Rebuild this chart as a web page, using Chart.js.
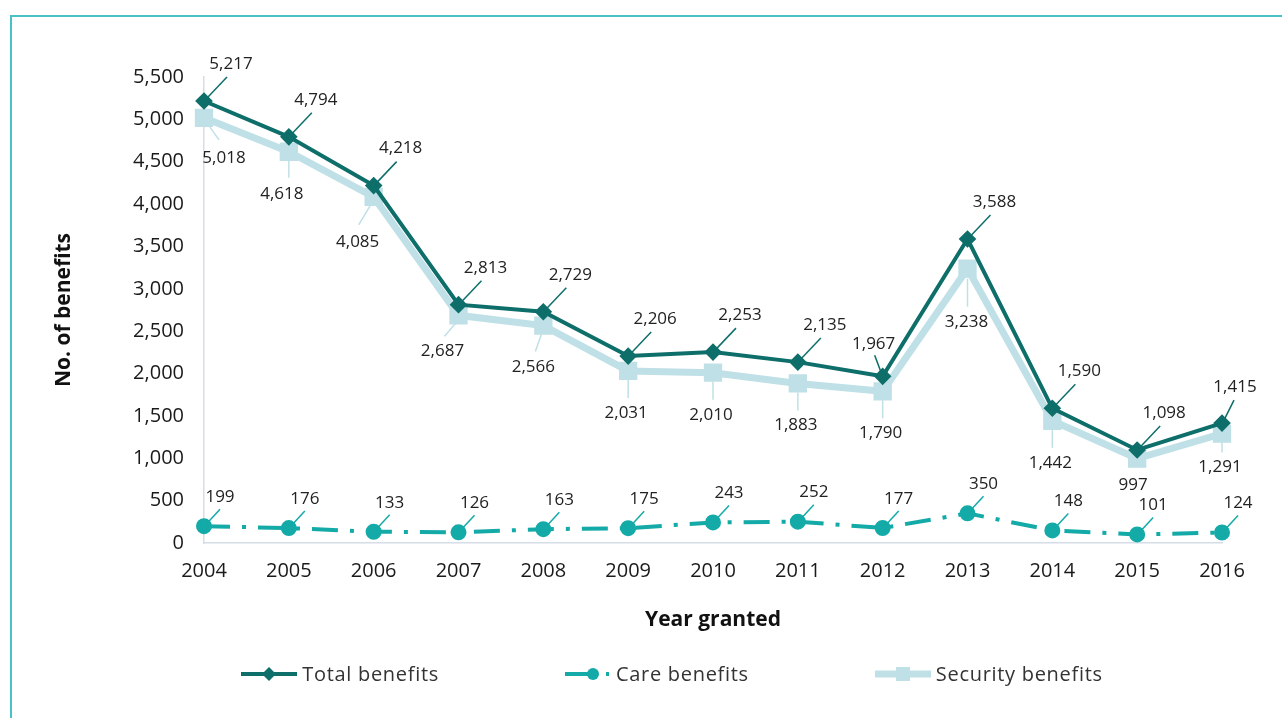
<!DOCTYPE html>
<html>
<head>
<meta charset="utf-8">
<script src="https://cdn.jsdelivr.net/npm/chart.js"></script>
<style>
  body { margin: 0; background: #fff; font-family: "Open Sans", sans-serif; }
  #wrap { position: relative; width: 1282px; height: 718px; overflow: hidden; }
  #frame { position: absolute; left: 10px; top: 15px; width: 1400px; height: 900px; border: 2px solid #48C2C5; }
  #chart { position: absolute; left: 0; top: 0; }
  #legend { position: absolute; left: 62px; top: 660px; width: 1220px; display: flex; justify-content: center; gap: 126px; }
  .item { display: flex; align-items: center; font-size: 20px; letter-spacing: 0.7px; color: #333; }
  .item canvas { margin-right: 5px; }
</style>
</head>
<body>
<div id="wrap">
  <div id="frame"></div>
  <canvas id="chart" width="1282" height="718"></canvas>
  <div id="legend"></div>
</div>
<script>
const years = ['2004', '2005', '2006', '2007', '2008', '2009', '2010', '2011', '2012', '2013', '2014', '2015', '2016'];
const totalBenefits = [5217, 4794, 4218, 2813, 2729, 2206, 2253, 2135, 1967, 3588, 1590, 1098, 1415];
const careBenefits = [199, 176, 133, 126, 163, 175, 243, 252, 177, 350, 148, 101, 124];
const securityBenefits = [5018, 4618, 4085, 2687, 2566, 2031, 2010, 1883, 1790, 3238, 1442, 997, 1291];
const seriesNames = ['Total benefits', 'Care benefits', 'Security benefits'];

const DARK = '#0E6E6A';
const TEAL = '#13AAA7';
const LIGHT = '#BFE0E6';
const FONT = '"Open Sans", sans-serif';

// where each value label sits relative to its point: label [dx, dy], leader [x1, y1, x2, y2]
const labelLayout = [
  { label: [27, -37], lead: [4, -4, 23, -24], tweak: {
      8: { label: [-9, -32], lead: [-2, -5, -8, -21] },
      12: { label: [13, -36], lead: [3, -5, 12, -23] } } },
  { label: [16, -29], lead: [4, -4, 16, -17], tweak: {} },
  { label: [-2, 42], lead: [0, 9, 0, 27], tweak: {
      0: { label: [20, 40], lead: [3, 5, 15, 22] },
      1: { label: [-7, 42], lead: [0, 9, 0, 26] },
      2: { label: [-16, 45], lead: [-3, 8, -15, 28] },
      3: { label: [-16, 36], lead: [-2, 7, -14, 21] },
      4: { label: [-10, 42], lead: [-2, 9, -8, 26] },
      9: { label: [-1, 54], lead: [0, 10, 0, 38] },
      11: { label: [-4, 27], lead: null },
      12: { label: [-2, 34], lead: [0, 8, 0, 19] } } }
];

const valueLabels = {
  id: 'valueLabels',
  afterDatasetsDraw(chart) {
    const ctx = chart.ctx;
    ctx.save();
    ctx.font = '17px ' + FONT;
    ctx.textAlign = 'center';
    ctx.textBaseline = 'middle';
    chart.data.datasets.forEach((ds, i) => {
      const meta = chart.getDatasetMeta(i);
      const lay = labelLayout[i];
      meta.data.forEach((pt, j) => {
        const t = lay.tweak[j] || {};
        const lab = t.label || lay.label;
        const lead = t.lead === undefined ? lay.lead : t.lead;
        if (lead) {
          ctx.strokeStyle = ds.borderColor;
          ctx.lineWidth = 1.5;
          ctx.beginPath();
          ctx.moveTo(pt.x + lead[0], pt.y + lead[1]);
          ctx.lineTo(pt.x + lead[2], pt.y + lead[3]);
          ctx.stroke();
        }
        ctx.fillStyle = '#222';
        ctx.fillText(ds.data[j].toLocaleString('en-US'), pt.x + lab[0], pt.y + lab[1]);
      });
    });
    ctx.restore();
  }
};

new Chart(document.getElementById('chart'), {
  type: 'line',
  data: {
    labels: years,
    datasets: [
      {
        label: seriesNames[0], data: totalBenefits,
        borderColor: DARK, backgroundColor: DARK, borderWidth: 4,
        pointStyle: 'rectRot', pointRadius: 6, pointHoverRadius: 6, clip: false
      },
      {
        label: seriesNames[1], data: careBenefits,
        borderColor: TEAL, backgroundColor: TEAL, borderWidth: 4, borderDash: [26, 12, 4, 12],
        pointStyle: 'circle', pointRadius: 6, pointHoverRadius: 6, clip: false
      },
      {
        label: seriesNames[2], data: securityBenefits,
        borderColor: LIGHT, backgroundColor: LIGHT, borderWidth: 7,
        pointStyle: 'rect', pointRadius: 8, pointHoverRadius: 8, clip: false
      }
    ]
  },
  options: {
    responsive: false,
    animation: false,
    layout: { padding: { left: 32, right: 60, top: 77, bottom: 65 } },
    plugins: { legend: { display: false }, tooltip: { enabled: false } },
    scales: {
      x: {
        grid: { display: false, drawTicks: false },
        border: { display: true, color: '#D5DEE8', width: 1.5 },
        ticks: { color: '#1a1a1a', font: { family: FONT, size: 20 }, padding: 16, maxRotation: 0 },
        title: { display: true, text: 'Year granted', color: '#111', font: { family: FONT, size: 21, weight: 'bold' }, padding: { top: 0, bottom: 20 } },
        afterFit(scale) { scale.height = 110; }
      },
      y: {
        min: 0, max: 5500,
        grid: { display: false, drawTicks: false },
        border: { display: true, color: '#D5DEE8', width: 1.5 },
        ticks: { stepSize: 500, color: '#1a1a1a', font: { family: FONT, size: 20 }, padding: 20,
                 callback: v => v.toLocaleString('en-US') },
        title: { display: true, text: 'No. of benefits', color: '#111', font: { family: FONT, size: 21, weight: 'bold' }, padding: { top: 19, bottom: 0 } },
        afterFit(scale) { scale.width = 172; }
      }
    }
  },
  plugins: [valueLabels]
});

// legend: line-with-marker icons like the original
function legendIcon(kind) {
  const c = document.createElement('canvas');
  const w = kind === 'care' ? 46 : 56;
  c.width = w; c.height = 20;
  const g = c.getContext('2d');
  if (kind === 'total') {
    g.strokeStyle = DARK; g.lineWidth = 4;
    g.beginPath(); g.moveTo(0, 10); g.lineTo(w, 10); g.stroke();
    g.fillStyle = DARK;
    g.beginPath(); g.moveTo(28, 3); g.lineTo(35, 10); g.lineTo(28, 17); g.lineTo(21, 10); g.closePath(); g.fill();
  } else if (kind === 'care') {
    g.strokeStyle = TEAL; g.lineWidth = 4;
    g.beginPath(); g.moveTo(0, 10); g.lineTo(28, 10); g.stroke();
    g.fillStyle = TEAL;
    g.beginPath(); g.arc(28, 10, 6, 0, Math.PI * 2); g.fill();
    g.fillRect(41, 8, 3, 4);
  } else {
    g.strokeStyle = LIGHT; g.lineWidth = 7;
    g.beginPath(); g.moveTo(0, 10); g.lineTo(w, 10); g.stroke();
    g.fillStyle = LIGHT;
    g.fillRect(21, 3, 14, 14);
  }
  return c;
}

const legend = document.getElementById('legend');
['total', 'care', 'security'].forEach((kind, i) => {
  const item = document.createElement('div');
  item.className = 'item';
  item.appendChild(legendIcon(kind));
  const span = document.createElement('span');
  span.textContent = seriesNames[i];
  item.appendChild(span);
  legend.appendChild(item);
});
</script>
</body>
</html>
